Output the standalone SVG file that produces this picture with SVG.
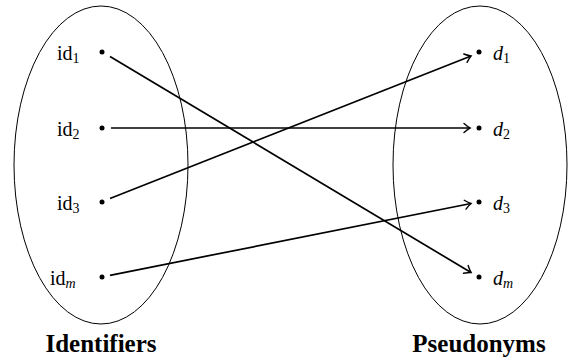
<svg xmlns="http://www.w3.org/2000/svg" width="574" height="358" viewBox="0 0 574 358">
<defs>
<marker id="arr" markerUnits="userSpaceOnUse" markerWidth="12" markerHeight="12" viewBox="-8 -6 10 12" refX="0" refY="0" orient="auto">
<path d="M -6,-4.5 Q -2,-1 0,0 Q -2,1 -6,4.5" fill="none" stroke="#000" stroke-width="1.4" stroke-linecap="round"/>
</marker>
</defs>
<style>
.set{fill:none;stroke:#000;stroke-width:1}
.dot{fill:#000}
.lbl{font-size:20px;fill:#000}
.sub{font-size:14px}
.it{font-style:italic}
.title{font-size:25px;font-weight:bold;text-anchor:middle;fill:#000}
.edge{fill:none;stroke:#000;stroke-width:1.7;marker-end:url(#arr)}
</style>
<g font-family="Liberation Serif, serif">
<g id="set-identifiers">
<ellipse class="set" cx="101" cy="165" rx="87" ry="159"/>
<text class="title" x="101" y="352" font-family="Liberation Serif, serif">Identifiers</text>
</g>
<g id="set-pseudonyms">
<ellipse class="set" cx="480" cy="165" rx="87" ry="159"/>
<text class="title" x="479" y="352" font-family="Liberation Serif, serif">Pseudonyms</text>
</g>
<g id="id1"><circle class="dot" cx="102" cy="52" r="2.5"/><text class="lbl" x="57" y="60" font-family="Liberation Serif, serif">id<tspan class="sub" dy="3">1</tspan></text></g>
<g id="id2"><circle class="dot" cx="102" cy="128" r="2.5"/><text class="lbl" x="57" y="136" font-family="Liberation Serif, serif">id<tspan class="sub" dy="3">2</tspan></text></g>
<g id="id3"><circle class="dot" cx="102" cy="202" r="2.5"/><text class="lbl" x="57" y="210" font-family="Liberation Serif, serif">id<tspan class="sub" dy="3">3</tspan></text></g>
<g id="idm"><circle class="dot" cx="102" cy="277" r="2.5"/><text class="lbl" x="50" y="285" font-family="Liberation Serif, serif">id<tspan class="sub it" dy="3">m</tspan></text></g>
<g id="d1"><circle class="dot" cx="479" cy="52" r="2.5"/><text class="lbl" x="493" y="60" font-family="Liberation Serif, serif"><tspan class="it">d</tspan><tspan class="sub" dy="3">1</tspan></text></g>
<g id="d2"><circle class="dot" cx="479" cy="128" r="2.5"/><text class="lbl" x="493" y="136" font-family="Liberation Serif, serif"><tspan class="it">d</tspan><tspan class="sub" dy="3">2</tspan></text></g>
<g id="d3"><circle class="dot" cx="479" cy="202" r="2.5"/><text class="lbl" x="493" y="210" font-family="Liberation Serif, serif"><tspan class="it">d</tspan><tspan class="sub" dy="3">3</tspan></text></g>
<g id="dm"><circle class="dot" cx="479" cy="277" r="2.5"/><text class="lbl" x="493" y="285" font-family="Liberation Serif, serif"><tspan class="it">d</tspan><tspan class="sub it" dy="3">m</tspan></text></g>
</g>
<g id="connectors">
<line class="edge" x1="110" y1="56.5" x2="471" y2="272.5"/>
<line class="edge" x1="111" y1="128" x2="470" y2="128"/>
<line class="edge" x1="110" y1="198.5" x2="471" y2="56"/>
<line class="edge" x1="110" y1="275.3" x2="471" y2="203.5"/>
</g>
</svg>
